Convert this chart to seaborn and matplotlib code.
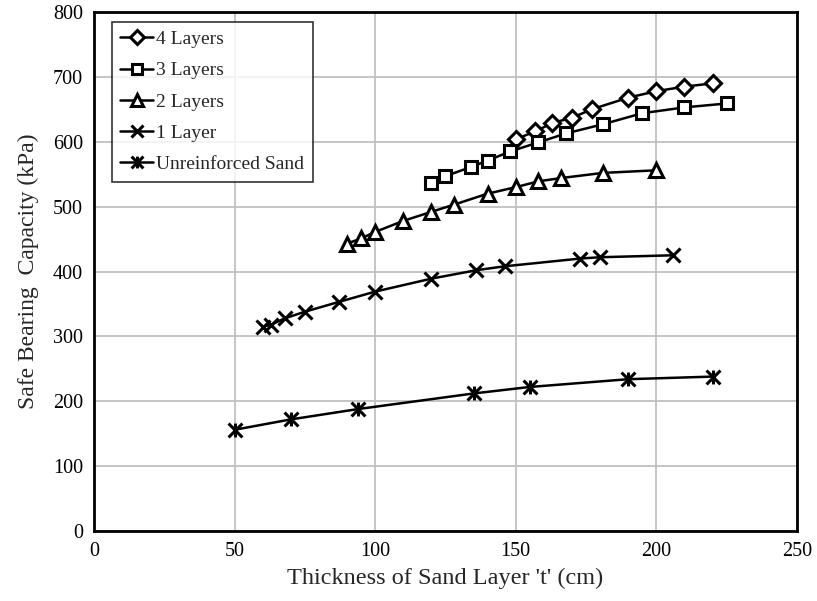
import numpy as np
import pandas as pd
import matplotlib
matplotlib.use("Agg")
import matplotlib.pyplot as plt
from matplotlib.path import Path
import seaborn as sns

# ---- data ----
x4 = [150, 157, 163, 170, 177, 190, 200, 210, 220]
y4 = [604, 616, 629, 637, 650, 668, 678, 685, 690]

x3 = [120, 125, 134, 140, 148, 158, 168, 181, 195, 210, 225]
y3 = [537, 547, 561, 571, 585, 599, 613, 627, 644, 653, 659]

x2 = [90, 95, 100, 110, 120, 128, 140, 150, 158, 166, 181, 200]
y2 = [443, 451, 461, 478, 492, 503, 520, 530, 539, 544, 552, 556]

x1 = [60, 63, 68, 75, 87, 100, 120, 136, 146, 173, 180, 206]
y1 = [315, 318, 328, 338, 353, 369, 389, 402, 408, 420, 422, 425]

xu = [50, 70, 94, 135, 155, 190, 220]
yu = [156, 172, 188, 212, 222, 234, 238]

labels = ["4 Layers", "3 Layers", "2 Layers", "1 Layer", "Unreinforced Sand"]
xticks = [0, 50, 100, 150, 200, 250]
yticks = [0, 100, 200, 300, 400, 500, 600, 700, 800]

sns.set_style("white")
plt.rcParams['font.family'] = ['Liberation Serif', 'DejaVu Serif']

fig = plt.figure(figsize=(8.17, 6.01), dpi=100)
ax = fig.add_axes([0.115, 0.1165, 0.8605, 0.8635])

star = Path([(-1, -1), (1, 1), (-1, 1), (1, -1), (0, -1), (0, 1)],
            [Path.MOVETO, Path.LINETO, Path.MOVETO, Path.LINETO, Path.MOVETO, Path.LINETO])

series = [(x4, y4, "D", 8), (x3, y3, "s", 9), (x2, y2, "^", 10), (x1, y1, "x", 10), (xu, yu, star, 10)]
for (xs, ys, mk, ms), lab in zip(series, labels):
    df = pd.DataFrame({"x": xs, "y": ys})
    sns.lineplot(data=df, x="x", y="y", ax=ax, color="black", linewidth=1.8,
                 marker=mk, markersize=ms, markerfacecolor="white",
                 markeredgecolor="black", markeredgewidth=2.2, label=lab)

ax.set_xlim(0, 250)
ax.set_ylim(0, 800)
ax.set_xticks(xticks)
ax.set_yticks(yticks)
ax.grid(True, color="#c0c0c0", linewidth=1.3)
ax.set_axisbelow(True)
for s in ax.spines.values():
    s.set_color("black")
    s.set_linewidth(2)
ax.tick_params(axis="both", labelsize=14.5, length=0, pad=8, labelcolor="black")
ax.set_xlabel("Thickness of Sand Layer 't' (cm)", fontsize=17.5, labelpad=5)
ax.set_ylabel("Safe Bearing  Capacity (kPa)", fontsize=17, labelpad=10)

leg = ax.legend(loc="upper left", bbox_to_anchor=(0.025, 0.981), fontsize=14,
                frameon=True, fancybox=False, edgecolor="black", handlelength=1.7,
                handletextpad=0.15, borderpad=0.45, labelspacing=0.7,
                borderaxespad=0, markerscale=0.85)
leg.get_frame().set_linewidth(1.2)

fig.savefig("out.png", dpi=100)
